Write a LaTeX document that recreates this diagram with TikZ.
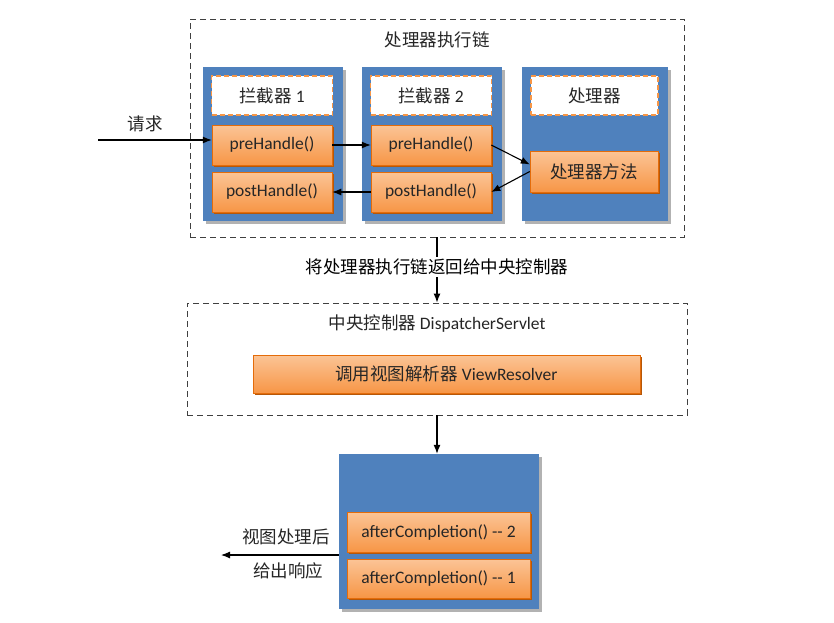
\documentclass[tikz,border=0pt]{standalone}
\usepackage{fontspec}
\setmainfont{Carlito}
\newfontfamily\cjk{Noto Sans CJK SC}
\usepackage{tikz}
\usetikzlibrary{arrows.meta,positioning,shadows}
\definecolor{colBlue}{RGB}{79,129,189}
\definecolor{orMain}{RGB}{247,150,70}
\definecolor{orLight}{RGB}{251,196,150}
\definecolor{orEdge}{RGB}{228,108,10}
\definecolor{orShade}{RGB}{182,87,8}
\definecolor{inkGray}{RGB}{38,38,38}

\begin{document}
\begin{tikzpicture}[x=1pt, y=-1pt, font=\fontsize{17.5}{20}\selectfont, text=inkGray,
  outerbox/.style={draw=black!75, dash pattern=on 6pt off 4pt, line width=0.9pt, inner sep=0},
  column/.style={fill=colBlue, inner sep=0, drop shadow={shadow xshift=3pt, shadow yshift=-3pt, fill=black!30, opacity=1}},
  tagbox/.style={fill=white, draw=orMain, dash pattern=on 5pt off 3pt, line width=1.3pt, inner sep=0, minimum height=39},
  callbox/.style={top color=orLight, bottom color=orMain, draw=orEdge, line width=0.5pt, inner sep=0, minimum height=40,
    drop shadow={shadow xshift=1.5pt, shadow yshift=-2pt, fill=orShade, opacity=1}},
  flow/.style={-{Latex[length=9pt, width=7pt]}, line width=1.1pt, black}
]
  \useasboundingbox[fill=white] (0,0) rectangle (834,622);

  % handler execution chain
  \node[outerbox, minimum width=494, minimum height=218] (chain) at (437,128) {};
  \node (chaintitle) at (437,40) {\cjk 处理器执行链};
  \foreach \i/\x in {1/273, 2/432} {
    \node[column, minimum width=140, minimum height=154] (col\i) at (\x,144) {};
    \node[tagbox, minimum width=121] (tag\i) at (\x-1,95.5) {{\cjk 拦截器} \i};
    \node[callbox, minimum width=120] (pre\i) at (\x-1,145) {preHandle()};
    \node[callbox, minimum width=120] (post\i) at (\x-1,192) {postHandle()};
  }
  \node[column, minimum width=146, minimum height=154] (col3) at (595,144) {};
  \node[tagbox, minimum width=127] (tag3) at (594.5,95.5) {\cjk 处理器};
  \node[callbox, minimum width=128, minimum height=41] (method) at (594,171.5) {\cjk 处理器方法};

  \coordinate (req) at (98,140);
  \node (reqlabel) at (145,124) {\cjk 请求};
  \draw[flow] (req) -- (req -| pre1.west);
  \draw[flow] (pre1.east) -- (pre2.west);
  \draw[flow] (pre2.east) -- ([yshift=7pt]method.west);
  \draw[flow] (method.west) -- (post2.east);
  \draw[flow] (post2.west) -- (post1.east);

  % dispatcher
  \node[outerbox, minimum width=500, minimum height=112] (disp) at (437,359) {};
  \node (disptitle) at (437,324) {{\cjk 中央控制器} DispatcherServlet};
  \node[callbox, minimum width=387, minimum height=38] (resolver) at (446.5,374) {{\cjk 调用视图解析器} ViewResolver};
  \draw[flow] (chain.south) -- (disp.north) node[pos=0.45, fill=white, inner sep=2pt] (backlabel) {\cjk 将处理器执行链返回给中央控制器};

  % after completion
  \node[column, minimum width=200, minimum height=155] (done) at (439,531.5) {};
  \node[callbox, minimum width=183] (after2) at (438.5,532) {afterCompletion() -{}- 2};
  \node[callbox, minimum width=183, minimum height=39] (after1) at (438.5,578.5) {afterCompletion() -{}- 1};
  \draw[flow] (disp.south) -- (disp.south |- done.north);

  \coordinate (resp) at (221,555);
  \draw[flow] (done.west |- resp) -- (resp);
  \node (resplabel1) at (286,537) {\cjk 视图处理后};
  \node (resplabel2) at (288,571) {\cjk 给出响应};
\end{tikzpicture}
\end{document}
